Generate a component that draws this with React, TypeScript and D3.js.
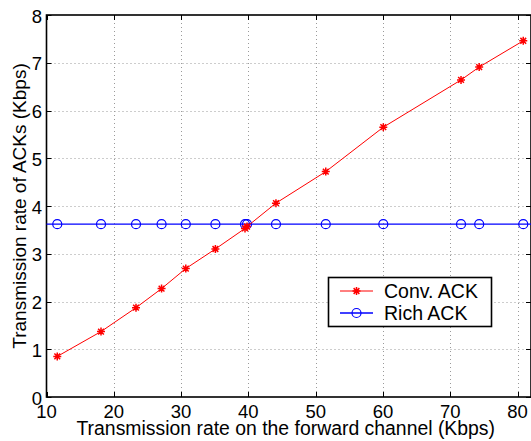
import React, { useRef, useEffect } from 'react';
import { select, scaleLinear, line } from 'd3';

// forward channel rate (Kbps)
const forwardRate = [11.6, 18.1, 23.3, 27.1, 30.7, 35.1, 39.5, 39.8, 44.1, 51.5, 60.05, 71.6, 74.3, 80.85];
// conventional ACK rate (Kbps)
const convAck = [0.85, 1.37, 1.87, 2.27, 2.69, 3.1, 3.53, 3.57, 4.06, 4.72, 5.65, 6.64, 6.91, 7.46];
// rich ACK rate (Kbps)
const richAck = [3.62, 3.62, 3.62, 3.62, 3.62, 3.62, 3.62, 3.62, 3.62, 3.62, 3.62, 3.62, 3.62, 3.62];

const xTicks = [10, 20, 30, 40, 50, 60, 70, 80];
const yTicks = [0, 1, 2, 3, 4, 5, 6, 7, 8];
const seriesNames = ['Conv. ACK', 'Rich ACK'];

const WIDTH = 531;
const HEIGHT = 441;
const FONT = 'Liberation Sans, Arial, Helvetica, sans-serif';

// MATLAB style "*" marker: a plus and a cross on top of each other
const starPath = (cx, cy, r) => {
    const d = r * 0.72;
    return `M${cx - r},${cy}L${cx + r},${cy}M${cx},${cy - r}L${cx},${cy + r}` +
        `M${cx - d},${cy - d}L${cx + d},${cy + d}M${cx - d},${cy + d}L${cx + d},${cy - d}`;
};

const App = () => {
    const ref = useRef();

    useEffect(() => {
        const svg = select(ref.current);
        svg.selectAll('*').remove();

        const x = scaleLinear().domain([10, 82]).range([46.5, 531]);
        const y = scaleLinear().domain([0, 8]).range([397, 15]);
        const [x0, x1] = x.range();
        const [y0, y1] = y.range();

        // dotted grid
        const grid = svg.append('g')
            .attr('stroke', '#9a9a9a')
            .attr('stroke-width', 1)
            .attr('stroke-dasharray', '1,3');
        grid.selectAll('.gx')
            .data(xTicks.filter(t => t > 10))
            .enter()
            .append('line')
            .attr('x1', d => Math.round(x(d)) + 0.5)
            .attr('x2', d => Math.round(x(d)) + 0.5)
            .attr('y1', y1)
            .attr('y2', y0);
        grid.selectAll('.gy')
            .data(yTicks.filter(t => t > 0 && t < 8))
            .enter()
            .append('line')
            .attr('x1', x0)
            .attr('x2', x1)
            .attr('y1', d => Math.round(y(d)) + 0.5)
            .attr('y2', d => Math.round(y(d)) + 0.5);

        // inward ticks on all four sides
        const ticks = svg.append('g').attr('stroke', '#000').attr('stroke-width', 1);
        xTicks.forEach(t => {
            const px = Math.round(x(t)) + 0.5;
            ticks.append('line').attr('x1', px).attr('x2', px).attr('y1', y0).attr('y2', y0 - 5);
            ticks.append('line').attr('x1', px).attr('x2', px).attr('y1', y1).attr('y2', y1 + 5);
        });
        yTicks.forEach(t => {
            const py = Math.round(y(t)) + 0.5;
            ticks.append('line').attr('x1', x0).attr('x2', x0 + 5).attr('y1', py).attr('y2', py);
            ticks.append('line').attr('x1', x1).attr('x2', x1 - 5).attr('y1', py).attr('y2', py);
        });

        // axes box
        svg.append('rect')
            .attr('x', x0)
            .attr('y', y1)
            .attr('width', x1 - x0)
            .attr('height', y0 - y1)
            .attr('fill', 'none')
            .attr('stroke', '#000')
            .attr('stroke-width', 1.6);

        // tick labels
        svg.append('g')
            .selectAll('text')
            .data(xTicks)
            .enter()
            .append('text')
            .attr('x', d => x(d))
            .attr('y', 417.5)
            .attr('text-anchor', 'middle')
            .attr('font-family', FONT)
            .attr('font-size', 18.5)
            .text(d => d);
        svg.append('g')
            .selectAll('text')
            .data(yTicks)
            .enter()
            .append('text')
            .attr('x', 42)
            .attr('y', d => y(d) + 7.5)
            .attr('text-anchor', 'end')
            .attr('font-family', FONT)
            .attr('font-size', 18.5)
            .text(d => d);

        // axis titles
        svg.append('text')
            .attr('x', (x0 + x1) / 2 - 3)
            .attr('y', 435)
            .attr('text-anchor', 'middle')
            .attr('font-family', FONT)
            .attr('font-size', 19.4)
            .text('Transmission rate on the forward channel (Kbps)');
        svg.append('text')
            .attr('transform', `translate(26,${(y0 + y1) / 2}) rotate(-90)`)
            .attr('text-anchor', 'middle')
            .attr('font-family', FONT)
            .attr('font-size', 19)
            .text('Transmission rate of ACKs (Kbps)');

        const pts = (vals) => forwardRate.map((r, i) => [x(r), y(vals[i])]);

        // rich ACK, blue with circles
        svg.append('path')
            .attr('d', line()([[x0, y(richAck[0])], [x1, y(richAck[0])]]))
            .attr('stroke', '#0000ff')
            .attr('stroke-width', 1.3)
            .attr('fill', 'none');
        svg.append('g')
            .selectAll('circle')
            .data(pts(richAck))
            .enter()
            .append('circle')
            .attr('cx', d => d[0])
            .attr('cy', d => d[1])
            .attr('r', 4.5)
            .attr('fill', 'none')
            .attr('stroke', '#0000ff')
            .attr('stroke-width', 1.2);

        // conventional ACK, red with stars
        svg.append('path')
            .attr('d', line()(pts(convAck)))
            .attr('stroke', '#ff0000')
            .attr('stroke-width', 1)
            .attr('fill', 'none');
        svg.append('g')
            .selectAll('path')
            .data(pts(convAck))
            .enter()
            .append('path')
            .attr('d', d => starPath(d[0], d[1], 4))
            .attr('stroke', '#ff0000')
            .attr('stroke-width', 1.5)
            .attr('fill', 'none');

        // legend
        const lg = svg.append('g');
        lg.append('rect')
            .attr('x', 328.5)
            .attr('y', 277.5)
            .attr('width', 163)
            .attr('height', 49)
            .attr('fill', '#fff')
            .attr('stroke', '#000')
            .attr('stroke-width', 1.6);
        const rows = [291, 313];
        lg.append('line')
            .attr('x1', 340).attr('x2', 373).attr('y1', rows[0]).attr('y2', rows[0])
            .attr('stroke', '#ff0000').attr('stroke-width', 1);
        lg.append('path')
            .attr('d', starPath(356.5, rows[0], 4))
            .attr('stroke', '#ff0000').attr('stroke-width', 1.5);
        lg.append('line')
            .attr('x1', 340).attr('x2', 373).attr('y1', rows[1]).attr('y2', rows[1])
            .attr('stroke', '#0000ff').attr('stroke-width', 1.3);
        lg.append('circle')
            .attr('cx', 356.5).attr('cy', rows[1]).attr('r', 4.5)
            .attr('fill', 'none').attr('stroke', '#0000ff').attr('stroke-width', 1.2);
        lg.selectAll('text')
            .data(seriesNames)
            .enter()
            .append('text')
            .attr('x', 384)
            .attr('y', (d, i) => rows[i] + 7)
            .attr('font-family', FONT)
            .attr('font-size', 19.5)
            .text(d => d);
    }, []);

    return (
        <svg ref={ref} width={WIDTH} height={HEIGHT}
            style={{ position: 'absolute', left: 0, top: 0, background: '#fff' }}></svg>
    );
};

export default App;
